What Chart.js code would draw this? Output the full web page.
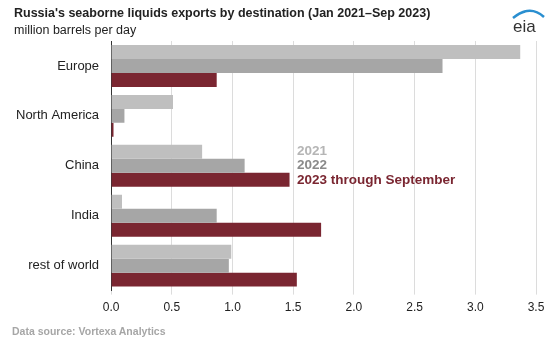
<!DOCTYPE html>
<html>
<head>
<meta charset="utf-8">
<script src="https://cdn.jsdelivr.net/npm/chart.js@4"></script>
<style>
  body { margin: 0; background: #fff; font-family: "Liberation Sans", Arial, sans-serif; }
  #wrap { position: relative; width: 559px; height: 350px; }
  #chart { position: absolute; left: 0; top: 0; }
  .t { position: absolute; white-space: nowrap; }
</style>
</head>
<body>
<div id="wrap">
  <canvas id="chart" width="559" height="350"></canvas>
  <div class="t" style="left:14px;top:6px;font-size:12.5px;font-weight:bold;color:#222;">Russia's seaborne liquids exports by destination (Jan 2021–Sep 2023)</div>
  <div class="t" style="left:14px;top:23px;font-size:12.5px;color:#222;">million barrels per day</div>
  <div class="t" style="left:12px;top:325px;font-size:10.5px;font-weight:bold;color:#a6a6a6;">Data source: Vortexa Analytics</div>
  <div class="t" style="left:297px;top:143px;font-size:13.5px;font-weight:bold;color:#b5b5b5;line-height:15px;">2021</div>
  <div class="t" style="left:297px;top:157px;font-size:13.5px;font-weight:bold;color:#8a8a8a;line-height:15px;">2022</div>
  <div class="t" style="left:297px;top:172px;font-size:13.5px;font-weight:bold;color:#7a2631;line-height:15px;">2023 through September</div>
  <svg class="t" style="left:510px;top:5px;" width="40" height="32" viewBox="0 0 40 32">
    <path d="M3 13 Q20 -1 34 12" stroke="#2a8fd0" stroke-width="2.5" fill="none"/>
    <text x="3" y="27" font-family="Liberation Sans, Arial" font-size="17" fill="#333">eia</text>
  </svg>
</div>
<script>
// Russia seaborne liquids exports, million barrels per day
const categories = ['Europe', 'North America', 'China', 'India', 'rest of world'];
const values2021 = [3.37, 0.51, 0.75, 0.09, 0.99];
const values2022 = [2.73, 0.11, 1.10, 0.87, 0.97];
const values2023 = [0.87, 0.02, 1.47, 1.73, 1.53];
const xTicks = [0, 0.5, 1.0, 1.5, 2.0, 2.5, 3.0, 3.5];

const ctx = document.getElementById('chart').getContext('2d');
new Chart(ctx, {
    type: 'bar',
    data: {
        labels: categories,
        datasets: [
            { label: '2021', data: values2021, backgroundColor: '#bfbfbf' },
            { label: '2022', data: values2022, backgroundColor: '#a6a6a6' },
            { label: '2023 through September', data: values2023, backgroundColor: '#7a2631' }
        ]
    },
    options: {
        indexAxis: 'y',
        responsive: false,
        animation: false,
        categoryPercentage: 0.84,
        barPercentage: 1.0,
        layout: { padding: { top: 41, right: 23, bottom: 29, left: 12 } },
        plugins: {
            legend: { display: false },
            tooltip: { enabled: false }
        },
        scales: {
            x: {
                min: 0,
                max: 3.5,
                afterBuildTicks: (axis) => { axis.ticks = xTicks.map(v => ({ value: v })); },
                grid: { color: '#dcdcdc', drawTicks: true, tickLength: 4 },
                border: { display: false },
                ticks: {
                    color: '#222',
                    padding: 6,
                    font: { family: 'Liberation Sans', size: 12 },
                    callback: (v) => Number(v).toFixed(1)
                }
            },
            y: {
                grid: { display: false },
                border: { display: true, color: '#333', width: 1 },
                ticks: {
                    color: '#222',
                    font: { family: 'Liberation Sans', size: 13 },
                    padding: 4
                }
            }
        }
    }
});
</script>
</body>
</html>
